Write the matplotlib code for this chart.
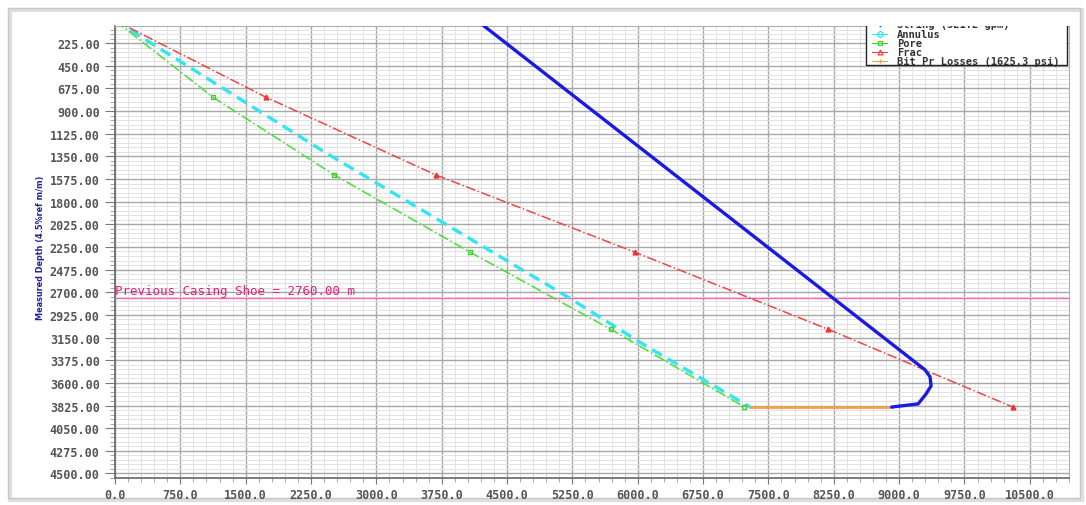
import numpy as np
import matplotlib
matplotlib.use("Agg")
import matplotlib.pyplot as plt
from matplotlib.ticker import MultipleLocator, FormatStrFormatter
from matplotlib.patches import Rectangle
from matplotlib.lines import Line2D

# depth (m) vs pressure
pore_depth = [0, 761, 1536, 2302, 3068, 3840]
pore = [0, 1122, 2519, 4076, 5691, 7225]

frac_depth = [0, 761, 1536, 2302, 3068, 3840]
frac = [0, 1729, 3687, 5966, 8187, 10305]

annulus_depth = [0, 1307, 2736, 3232, 3840]
annulus = [0, 2405, 5176, 6092, 7290]

string_depth = [0, 3471, 3541, 3630, 3710, 3809, 3840]
string = [4154, 9298, 9355, 9367, 9309, 9218, 8915]

bit_depth = [3840, 3840]
bit_losses = [7290, 8915]

casing_shoe = 2760.0
casing_text = "Previous Casing Shoe = 2760.00 m"

legend_labels = ["String (521.2 gpm)", "Annulus", "Pore", "Frac",
                 "Bit Pr Losses (1625.3 psi)"]

W, H = 1086, 506
fig = plt.figure(figsize=(W / 100, H / 100), dpi=100)
fig.patch.set_facecolor("white")

# screenshot frame
fig.add_artist(Rectangle((10 / W, 5 / H), 1072 / W, 490 / H, transform=fig.transFigure,
                         fill=False, edgecolor="#dedede", lw=3, zorder=-5))
fig.add_artist(Rectangle((8 / W, 7 / H), 1072 / W, 490 / H, transform=fig.transFigure,
                         fill=False, edgecolor="#c8c8c8", lw=1, zorder=-4))

L, R, T, B = 115, 1069, 27, 479
ax = fig.add_axes([L / W, 1 - B / H, (R - L) / W, (B - T) / H])

# grid
ax.xaxis.set_major_locator(MultipleLocator(750))
ax.xaxis.set_minor_locator(MultipleLocator(150))
ax.yaxis.set_major_locator(MultipleLocator(225))
ax.yaxis.set_minor_locator(MultipleLocator(45))
ax.xaxis.set_major_formatter(FormatStrFormatter("%.1f"))
ax.yaxis.set_major_formatter(FormatStrFormatter("%.2f"))
ax.grid(which="major", color="#a8a8a8", lw=1.0)
ax.grid(which="minor", color="#e2e2e2", lw=0.7)
ax.set_axisbelow(True)

ax.tick_params(axis="y", which="major", length=7, width=0.8, color="#777777",
               pad=4, labelcolor="#555555")
ax.tick_params(axis="y", which="minor", length=3.5, width=0.6, color="#999999")
ax.tick_params(axis="x", which="major", length=4, width=0.8, color="#777777",
               pad=3, labelcolor="#555555")
ax.tick_params(axis="x", which="minor", length=3, width=0.6, color="#999999")
for lab in ax.get_xticklabels() + ax.get_yticklabels():
    lab.set_fontfamily("DejaVu Sans Mono")
    lab.set_fontsize(8.5)
    lab.set_fontweight("bold")

for s in ["left", "bottom"]:
    ax.spines[s].set_color("#666666")
    ax.spines[s].set_linewidth(1.2)
for s in ["top", "right"]:
    ax.spines[s].set_color("#b0b0b0")
    ax.spines[s].set_linewidth(0.8)

# curves
ax.plot(string, string_depth, color="#1a1ae0", lw=2.4, solid_capstyle="round", zorder=5)
ax.plot(annulus, annulus_depth, color="#33e4f2", lw=2.4, dashes=(3.4, 2.0), zorder=4)
ax.plot(pore, pore_depth, color="#55dd44", lw=1.2, ls="-.", zorder=4)
ax.plot(pore[1:], pore_depth[1:], ls="none", marker="s", ms=3.5, mfc="none",
        mec="#44cc33", mew=1.0, zorder=4)
ax.plot(frac, frac_depth, color="#ec4646", lw=1.1, ls="-.", zorder=4)
ax.plot(frac[1:], frac_depth[1:], ls="none", marker="^", ms=3.5, color="#ee3333", zorder=4)
ax.plot(bit_losses, bit_depth, color="#f0a050", lw=2.0, zorder=3)

ax.axhline(casing_shoe, color="#ff66b0", lw=1.0, zorder=3)
ax.text(0, casing_shoe - 12, casing_text, color="#e0207a", fontsize=9,
        family="DejaVu Sans Mono", va="bottom", ha="left", zorder=6)

ax.set_xlim(0, 10950)
ax.set_ylim(4545, 55)

fig.text(41 / W, 1 - 248 / H, "Measured Depth (4.5%ref m/m)", rotation=90,
         ha="center", va="center", color="#22229a", fontsize=6.5, weight="bold",
         family="DejaVu Sans", fontstretch="condensed")

# legend box (top clipped by the plot edge like the reference)
def ax_xy(px, py):
    return (px - L) / (R - L), (B - py) / (B - T)

x0, y0 = ax_xy(866, 66)
x1, y1 = ax_xy(1067, 15)
ax.add_patch(Rectangle((x0, y0), x1 - x0, y1 - y0, transform=ax.transAxes,
                       facecolor="white", edgecolor="#222222", lw=1.0, zorder=10,
                       clip_on=True))
leg_styles = [("#3333ee", "v"), ("#33e4f2", "D"), ("#44cc33", "s"),
              ("#ee4444", "^"), ("#f0a050", "+")]
rows_y = [25, 35, 44, 53, 62]
for (c, m), lab, py in zip(leg_styles, legend_labels, rows_y):
    lx0, ly = ax_xy(872, py)
    lx1, _ = ax_xy(887, py)
    mx, _ = ax_xy(879.5, py)
    ax.add_line(Line2D([lx0, lx1], [ly, ly], color=c, lw=0.8,
                       transform=ax.transAxes, zorder=11))
    ax.add_line(Line2D([mx], [ly], marker=m, ms=3.5, mfc="none", mec=c, mew=0.9,
                       transform=ax.transAxes, zorder=11))
    tx, _ = ax_xy(897, py)
    ax.text(tx, ly, lab, transform=ax.transAxes, fontsize=7.5, family="DejaVu Sans Mono",
            weight="bold", color="#333333", va="center", ha="left", zorder=11,
            clip_on=True)

fig.savefig("out.png", dpi=100)
